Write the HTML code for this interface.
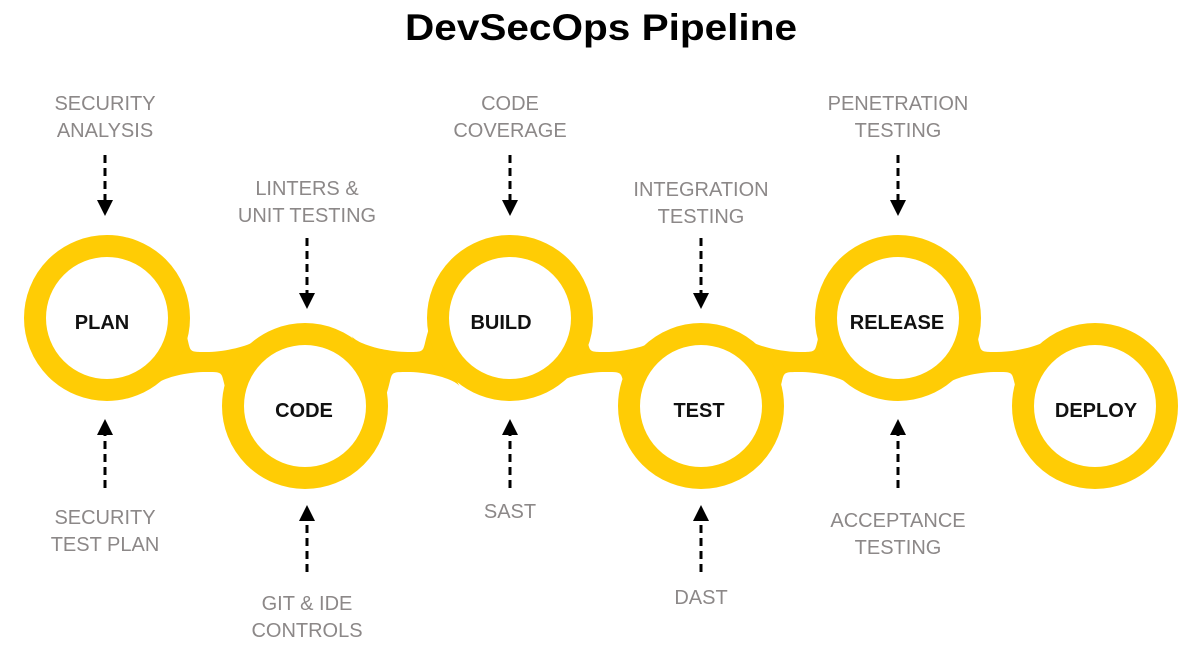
<!DOCTYPE html>
<html><head><meta charset="utf-8"><style>
html,body{margin:0;padding:0;background:#fff;}
svg{display:block;}
.l{font-family:"Liberation Sans",sans-serif;font-size:20px;fill:#8c8888;text-anchor:middle;}
.n{font-family:"Liberation Sans",sans-serif;font-size:20px;font-weight:bold;fill:#111;text-anchor:middle;}
</style></head><body>
<svg width="1195" height="652" viewBox="0 0 1195 652">
<defs>
<path id="nk" d="M -21,330 C -14,352 -20,352 0,352 C 20,352 49,345 56,336 L 21,394 C 14,372 20,372 0,372 C -20,372 -45,378 -52,386 Z"/>
</defs>
<text x="601" y="40" font-family="Liberation Sans,sans-serif" font-weight="bold" font-size="37" text-anchor="middle" textLength="392" lengthAdjust="spacingAndGlyphs" fill="#000">DevSecOps Pipeline</text>
<g fill="#FFCC05">
<use href="#nk" transform="translate(206,0)"/>
<use href="#nk" transform="translate(407.5,0) scale(-1,1)"/>
<use href="#nk" transform="translate(605.5,0)"/>
<use href="#nk" transform="translate(799.5,0) scale(-1,1)"/>
<use href="#nk" transform="translate(996.5,0)"/>
</g>
<g fill="#fff" stroke="#FFCC05" stroke-width="22">
<circle cx="107" cy="318" r="72"/>
<circle cx="305" cy="406" r="72"/>
<circle cx="510" cy="318" r="72"/>
<circle cx="701" cy="406" r="72"/>
<circle cx="898" cy="318" r="72"/>
<circle cx="1095" cy="406" r="72"/>
</g>
<text class="n" x="102" y="329">PLAN</text>
<text class="n" x="304" y="417">CODE</text>
<text class="n" x="501" y="329">BUILD</text>
<text class="n" x="699" y="417">TEST</text>
<text class="n" x="897" y="329">RELEASE</text>
<text class="n" x="1096" y="417">DEPLOY</text>
<g class="l">
<text x="105" y="110">SECURITY</text><text x="105" y="137">ANALYSIS</text>
<text x="307" y="195">LINTERS &amp;</text><text x="307" y="222">UNIT TESTING</text>
<text x="510" y="110">CODE</text><text x="510" y="137">COVERAGE</text>
<text x="701" y="196">INTEGRATION</text><text x="701" y="223">TESTING</text>
<text x="898" y="110">PENETRATION</text><text x="898" y="137">TESTING</text>
<text x="105" y="524">SECURITY</text><text x="105" y="551">TEST PLAN</text>
<text x="307" y="610">GIT &amp; IDE</text><text x="307" y="637">CONTROLS</text>
<text x="510" y="518">SAST</text>
<text x="701" y="604">DAST</text>
<text x="898" y="527">ACCEPTANCE</text><text x="898" y="554">TESTING</text>
</g>
<g stroke="#000" stroke-width="3" stroke-dasharray="8,5" fill="none">
<line x1="105" y1="155" x2="105" y2="202"/>
<line x1="307" y1="238" x2="307" y2="295"/>
<line x1="510" y1="155" x2="510" y2="202"/>
<line x1="701" y1="238" x2="701" y2="295"/>
<line x1="898" y1="155" x2="898" y2="202"/>
<line x1="105" y1="488" x2="105" y2="432"/>
<line x1="307" y1="572" x2="307" y2="518"/>
<line x1="510" y1="488" x2="510" y2="432"/>
<line x1="701" y1="572" x2="701" y2="518"/>
<line x1="898" y1="488" x2="898" y2="432"/>
</g>
<g fill="#000">
<path d="M97,200 L113,200 L105,216 Z"/>
<path d="M299,293 L315,293 L307,309 Z"/>
<path d="M502,200 L518,200 L510,216 Z"/>
<path d="M693,293 L709,293 L701,309 Z"/>
<path d="M890,200 L906,200 L898,216 Z"/>
<path d="M97,435 L113,435 L105,419 Z"/>
<path d="M299,521 L315,521 L307,505 Z"/>
<path d="M502,435 L518,435 L510,419 Z"/>
<path d="M693,521 L709,521 L701,505 Z"/>
<path d="M890,435 L906,435 L898,419 Z"/>
</g>
</svg>
</body></html>
